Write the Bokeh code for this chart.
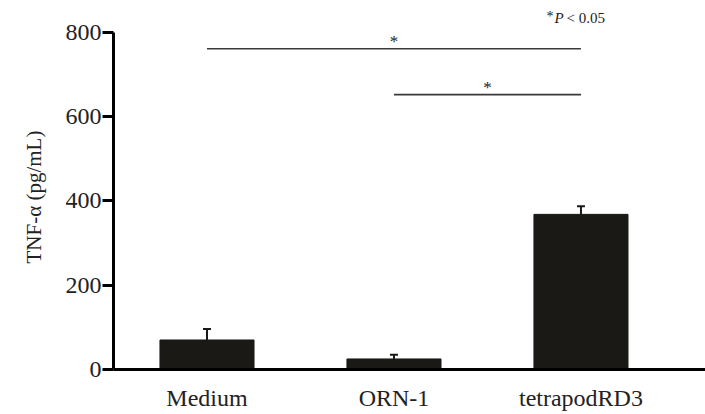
from bokeh.plotting import figure
from bokeh.models import Range1d, FixedTicker, Whisker, TeeHead, ColumnDataSource, Title
from bokeh.core.properties import value
from bokeh.embed import file_html
from bokeh.resources import INLINE

categories = ["Medium", "ORN-1", "tetrapodRD3"]
means = [70, 25, 368]
errors = [26, 10, 19]
y_ticks = [0, 200, 400, 600, 800]
y_title = "TNF-α (pg/mL)"
# significance brackets: (from index, to index, height)
sig_pairs = [(0, 2, 761), (1, 2, 652)]
sig_label = "*"
note_parts = ["*", "P", " < 0.05"]

FONT = "Liberation Serif"
xs = [i + 0.5 for i in range(len(categories))]
upper = [m + e for m, e in zip(means, errors)]

p = figure(width=705, height=414, output_backend="svg", toolbar_location=None,
           x_range=Range1d(0, 3.166), y_range=Range1d(0, 875.3),
           min_border_left=113, min_border_right=0, min_border_top=0,
           min_border_bottom=45)
p.outline_line_color = None
p.grid.visible = False
p.background_fill_color = "white"

src = ColumnDataSource(dict(x=xs, top=means, upper=upper))
p.vbar(x="x", top="top", bottom=0, width=0.503, source=src,
       fill_color="#1b1916", line_color="#1b1916")

w = Whisker(base="x", lower="top", upper="upper", source=src,
            line_color="#1b1916", line_width=2,
            upper_head=TeeHead(size=8, line_width=2, line_color="#1b1916"),
            lower_head=None)
p.add_layout(w)

# significance lines
for a, b, h in sig_pairs:
    p.segment(x0=xs[a], y0=h, x1=xs[b], y1=h, line_color="#3a3a3a", line_width=1.6)
    p.text(x=[(xs[a] + xs[b]) / 2], y=[h + 18], text=[sig_label],
           text_font=value(FONT), text_font_size="17px", text_align="center",
           text_baseline="middle", text_color="#222222")

# note *P < 0.05
px2x = lambda px: (px - 113) / 187.0
p.text(x=[px2x(546)], y=[838], text=[note_parts[0]], text_font=value(FONT),
       text_font_size="14px", text_align="left", text_baseline="middle", text_color="#222222")
p.text(x=[px2x(554)], y=[834], text=[note_parts[1]], text_font=value(FONT),
       text_font_size="15px", text_font_style="italic", text_align="left",
       text_baseline="middle", text_color="#222222")
p.text(x=[px2x(566)], y=[834], text=[note_parts[2]], text_font=value(FONT),
       text_font_size="15px", text_align="left", text_baseline="middle", text_color="#222222")

# y axis
ya = p.yaxis[0]
ya.bounds = (0, 800)
ya.ticker = FixedTicker(ticks=y_ticks)
ya.axis_line_width = 3
ya.axis_line_color = "black"
ya.major_tick_line_width = 3
ya.major_tick_in = 0
ya.major_tick_out = 11
ya.minor_tick_line_color = None
ya.major_label_standoff = 1
ya.major_label_text_font = FONT
ya.major_label_text_font_size = "24px"
ya.major_label_text_color = "#222222"

# y-axis title as a left-side title so it can be offset along the axis
p.add_layout(Title(text=y_title, align="left", vertical_align="top", offset=106,
                   standoff=30, text_font=FONT, text_font_size="21px",
                   text_font_style="normal", text_color="#222222"), "left")

# x axis
xa = p.xaxis[0]
xa.ticker = FixedTicker(ticks=xs)
xa.major_label_overrides = {x: c for x, c in zip(xs, categories)}
xa.axis_line_width = 3
xa.axis_line_color = "black"
xa.major_tick_line_color = None
xa.major_tick_in = 0
xa.major_tick_out = 0
xa.minor_tick_line_color = None
xa.major_label_standoff = 15
xa.major_label_text_font = FONT
xa.major_label_text_font_size = "24px"
xa.major_label_text_color = "#222222"

open("out.html", "w").write(file_html(p, INLINE))
